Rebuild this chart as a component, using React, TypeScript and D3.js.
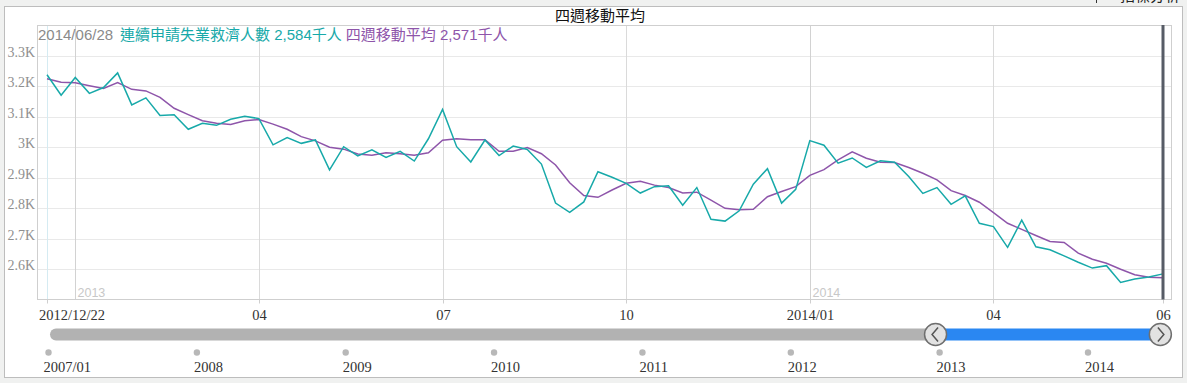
import React from "react";
import * as d3 from "d3";

// ---- data ----
const startDate = "2012-12-22";
const claims = [
  3237, 3170, 3228, 3176, 3195, 3243, 3138, 3161, 3103, 3106,
  3058, 3078, 3071, 3091, 3101, 3093, 3007, 3031, 3012, 3023,
  2925, 3001, 2971, 2991, 2966, 2986, 2954, 3027, 3123, 3001,
  2951, 3023, 2972, 3003, 2992, 2944, 2816, 2786, 2820, 2919,
  2901, 2881, 2849, 2870, 2873, 2809, 2867, 2763, 2757, 2791,
  2878, 2929, 2816, 2861, 3021, 3006, 2947, 2964, 2933, 2955,
  2950, 2903, 2848, 2867, 2812, 2840, 2750, 2739, 2671, 2760,
  2673, 2663, 2643, 2622, 2603, 2611, 2556, 2567, 2574, 2584,
];
const movingAvg = [
  3224, 3212, 3211, 3201, 3192, 3211, 3189, 3184, 3163, 3127,
  3106, 3086, 3078, 3074, 3086, 3090, 3075, 3058, 3034, 3020,
  2999, 2993, 2977, 2973, 2981, 2978, 2973, 2981, 3022, 3027,
  3024, 3024, 2986, 2986, 2998, 2978, 2941, 2883, 2841, 2835,
  2859, 2881, 2888, 2875, 2867, 2849, 2852, 2826, 2799, 2794,
  2796, 2837, 2854, 2870, 2907, 2926, 2958, 2984, 2963, 2950,
  2949, 2933, 2914, 2892, 2857, 2841, 2819, 2785, 2750, 2730,
  2710, 2690, 2687, 2652, 2632, 2619, 2599, 2581, 2573, 2571,
];
const yTicks = [2600, 2700, 2800, 2900, 3000, 3100, 3200, 3300];
const yTickLabels = ["2.6K", "2.7K", "2.8K", "2.9K", "3K", "3.1K", "3.2K", "3.3K"];
const xTickDates = ["2012-12-22", "2013-04-06", "2013-07-06", "2013-10-05", "2014-01-04", "2014-04-05", "2014-06-28"];
const xTickLabels = ["2012/12/22", "04", "07", "10", "2014/01", "04", "06"];
const monthGridDates = ["2013-04-06", "2013-07-06", "2013-10-05", "2014-01-04", "2014-04-05"];
const yearMarks = [
  { date: "2013-01-05", label: "2013" },
  { date: "2014-01-04", label: "2014" },
];
const sliderYears = ["2007-01-01", "2008-01-01", "2009-01-01", "2010-01-01", "2011-01-01", "2012-01-01", "2013-01-01", "2014-01-01"];
const sliderLabels = ["2007/01", "2008", "2009", "2010", "2011", "2012", "2013", "2014"];
const title = "四週移動平均";
const legendDate = "2014/06/28";
const seriesNames = ["連續申請失業救濟人數", "四週移動平均"];

const W = 1187;
const H = 383;
const TEAL = "#17a9a9";
const PURPLE = "#8e55aa";

const parse = d3.utcParse("%Y-%m-%d");

export default function App() {
  const d0 = parse(startDate) as Date;
  const dates = claims.map((_, i) => d3.utcDay.offset(d0, i * 7));
  const dEnd = dates[dates.length - 1];

  const plot = { left: 37, right: 1171.5, top: 25, bottom: 299.5 };
  const x = d3.scaleUtc().domain([d0, dEnd]).range([47, 1163]);
  const y = d3.scaleLinear().domain([2500, 3400]).range([plot.bottom, plot.top]);

  const line = d3
    .line<number>()
    .x((_, i) => x(dates[i]))
    .y((v) => y(v));

  const sx = d3
    .scaleUtc()
    .domain([parse(sliderYears[0]) as Date, parse(sliderYears[sliderYears.length - 1]) as Date])
    .range([48.5, 1088]);
  const trackY = 334.5;
  const hL = sx(d0);
  const hR = sx(dEnd);

  const serif = "'Liberation Serif', 'DejaVu Serif', serif";
  const sans = "'Liberation Sans', 'Noto Sans CJK TC', sans-serif";
  const cjk = "'Noto Sans CJK TC', 'Liberation Sans', sans-serif";

  const last = claims.length - 1;

  return (
    <div style={{ position: "absolute", left: 0, top: 0 }}>
      <svg width={W} height={H} style={{ display: "block" }}>
        <rect x={0} y={0} width={W} height={H} fill="#f0f1f0" />
        {/* cut-off header text */}
        <line x1={1096.5} y1={0} x2={1096.5} y2={3} stroke="#333" />
        <text x={1180} y={1} textAnchor="end" fontFamily={cjk} fontSize={15} fill="#222">
          指標分析
        </text>
        <rect x={4.5} y={6.5} width={1178} height={371} fill="#fff" stroke="#bdbdbd" />

        <text x={600} y={21} textAnchor="middle" fontFamily={cjk} fontSize={15} fill="#111">
          {title}
        </text>

        {/* horizontal grid */}
        {yTicks.map((t) => (
          <line key={t} x1={plot.left} x2={plot.right} y1={Math.round(y(t)) + 0.5} y2={Math.round(y(t)) + 0.5} stroke="#e9e9e9" />
        ))}
        {/* vertical grid */}
        {monthGridDates.map((d) => {
          const xx = Math.round(x(parse(d) as Date)) + 0.5;
          return <line key={d} x1={xx} x2={xx} y1={plot.top} y2={plot.bottom} stroke="#dadada" />;
        })}
        {yearMarks.map((m) => {
          const xx = Math.round(x(parse(m.date) as Date)) + 0.5;
          return (
            <g key={m.date}>
              <line x1={xx} x2={xx} y1={plot.top} y2={plot.bottom} stroke="#d2d2d2" />
              <text x={xx + 2} y={297} fontFamily={sans} fontSize={12.5} fill="#c8c8c8">
                {m.label}
              </text>
            </g>
          );
        })}
        <line x1={Math.round(x(d0)) + 0.5} x2={Math.round(x(d0)) + 0.5} y1={plot.top} y2={plot.bottom} stroke="#d5ebf2" />

        {/* frame */}
        <rect x={plot.left + 0.5} y={plot.top + 0.5} width={plot.right - plot.left - 0.5} height={plot.bottom - plot.top - 0.5} fill="none" stroke="#cfcfcf" />

        {/* y labels */}
        {yTicks.map((t, i) => (
          <text key={t} x={35} y={y(t) + 1} textAnchor="end" fontFamily={serif} fontSize={14} fill="#8f8f8f">
            {yTickLabels[i]}
          </text>
        ))}

        {/* x ticks & labels */}
        {xTickDates.map((d, i) => {
          const xx = Math.round(x(parse(d) as Date)) + 0.5;
          return (
            <g key={i}>
              <line x1={xx} x2={xx} y1={plot.bottom} y2={plot.bottom + 4} stroke="#cfcfcf" />
              <text
                x={i === 0 ? 39 : xx}
                y={320}
                textAnchor={i === 0 ? "start" : "middle"}
                fontFamily={serif}
                fontSize={14.5}
                fill="#333"
              >
                {xTickLabels[i]}
              </text>
            </g>
          );
        })}

        {/* series */}
        <path d={line(movingAvg) || ""} fill="none" stroke={PURPLE} strokeWidth={1.5} />
        <path d={line(claims) || ""} fill="none" stroke={TEAL} strokeWidth={1.5} />

        {/* cursor */}
        <rect x={x(dEnd) - 1.5} y={plot.top} width={3} height={plot.bottom - plot.top} fill="#575c66" />

        {/* legend */}
        <text y={40} fontFamily={sans} fontSize={15}>
          <tspan x={38} fill="#8a8a8a">{legendDate}</tspan>
          <tspan dx={7} fill={TEAL}>{`${seriesNames[0]} ${d3.format(",")(claims[last])}千人`}</tspan>
          <tspan dx={4} fill={PURPLE}>{`${seriesNames[1]} ${d3.format(",")(movingAvg[last])}千人`}</tspan>
        </text>

        {/* slider */}
        <rect x={50} y={trackY - 6} width={hL - 50} height={12} rx={6} fill="#b2b2b2" />
        <rect x={hL} y={trackY - 6} width={hR - hL} height={12} fill="#2a87f2" />
        {[hL, hR].map((cx, i) => (
          <g key={i}>
            <circle cx={cx} cy={trackY} r={11} fill="#e2e2e2" stroke="#6f6f6f" strokeWidth={1.5} />
            <path
              d={i === 0 ? `M${cx + 2.5},${trackY - 7} L${cx - 3.5},${trackY} L${cx + 2.5},${trackY + 7}` : `M${cx - 2.5},${trackY - 7} L${cx + 3.5},${trackY} L${cx - 2.5},${trackY + 7}`}
              fill="none"
              stroke="#555"
              strokeWidth={1.5}
            />
          </g>
        ))}
        {sliderYears.map((d, i) => {
          const xx = sx(parse(d) as Date);
          return (
            <g key={d}>
              <circle cx={xx} cy={352.5} r={3.2} fill="#b8b8b8" />
              <text x={xx - (i === 0 ? 5 : 3)} y={372} fontFamily={serif} fontSize={14.5} fill="#333">
                {sliderLabels[i]}
              </text>
            </g>
          );
        })}
      </svg>
    </div>
  );
}
